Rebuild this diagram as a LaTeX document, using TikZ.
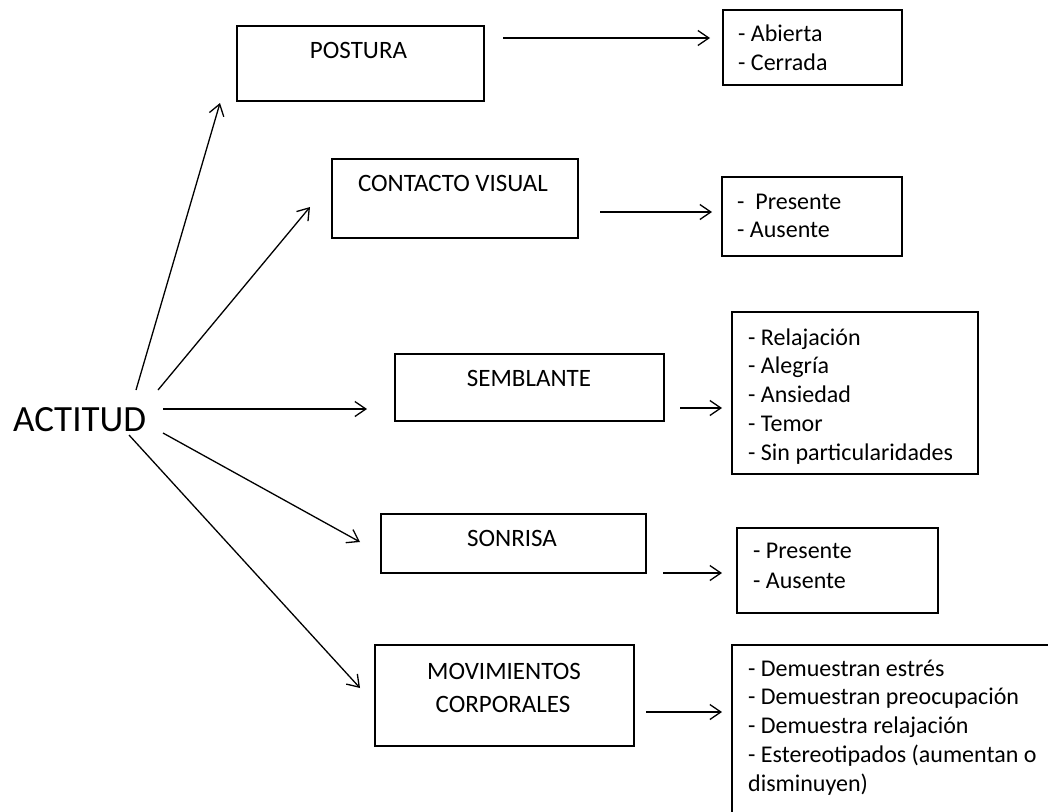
\documentclass[tikz,border=0pt]{standalone}
\usepackage{fontspec}
\setmainfont{Carlito}
\usetikzlibrary{arrows.meta,calc}
\begin{document}
\begin{tikzpicture}[x=1pt,y=-1pt,
  box/.style={draw, line width=1.6pt, inner sep=0pt, outer sep=0pt, anchor=north west},
  ttl/.style={font=\fontsize{25}{28}\selectfont, anchor=base, inner sep=0pt},
  itm/.style={font=\fontsize{24}{28}\selectfont, anchor=base west, inner sep=0pt},
  arr/.style={line width=1.3pt, -{Straight Barb[length=11pt,width=15pt]}}]
\useasboundingbox[fill=white] (0,0) rectangle (1048,811);

% main concept
\node[font=\fontsize{37}{40}\selectfont, anchor=base west, inner sep=0pt] (actitud) at (13,431) {ACTITUD};

% category boxes
\node[box, minimum width=247pt, minimum height=75pt] (postura) at (237,26) {};
\node[box, minimum width=246pt, minimum height=79pt] (contacto) at (332,159) {};
\node[box, minimum width=269pt, minimum height=67pt] (semblante) at (395,354) {};
\node[box, minimum width=265pt, minimum height=59pt] (sonrisa) at (381,514) {};
\node[box, minimum width=259pt, minimum height=101pt] (movim) at (375,645) {};

\node[ttl] (tpostura) at (358.5,58) {POSTURA};
\node[ttl] (tcontacto) at (453,191) {CONTACTO VISUAL};
\node[ttl] (tsemblante) at (529,386) {SEMBLANTE};
\node[ttl] (tsonrisa) at (512,546) {SONRISA};
\node[ttl] (tmov1) at (504,679) {MOVIMIENTOS};
\node[ttl] (tmov2) at (503,712) {CORPORALES};

% list boxes
\node[box, minimum width=179pt, minimum height=75pt] (lpostura) at (723,10) {};
\node[box, minimum width=180pt, minimum height=79pt] (lcontacto) at (722,177) {};
\node[box, minimum width=246pt, minimum height=162pt] (lsemblante) at (732,312) {};
\node[box, minimum width=201pt, minimum height=85pt] (lsonrisa) at (737,528) {};
\begin{scope}
\clip (0,0) rectangle (1048,811);
\node[box, minimum width=340pt, minimum height=200pt] (lmov) at (732,645) {};
\end{scope}

% list texts
\node[itm] (i11) at (738,41) {- Abierta};
\node[itm] (i12) at (738,70) {- Cerrada};
\node[itm] (i21) at (737,209) {-~~Presente};
\node[itm] (i22) at (737,237) {- Ausente};
\node[itm] (i31) at (748,345) {- Relajación};
\node[itm] (i32) at (748,373.75) {- Alegría};
\node[itm] (i33) at (748,402.5) {- Ansiedad};
\node[itm] (i34) at (748,431.25) {- Temor};
\node[itm] (i35) at (748,460) {- Sin particularidades};
\node[itm] (i41) at (753,558) {- Presente};
\node[itm] (i42) at (753,588) {- Ausente};
\node[itm] (i51) at (748,676) {- Demuestran estrés};
\node[itm] (i52) at (748,704.75) {- Demuestran preocupación};
\node[itm] (i53) at (748,733.5) {- Demuestra relajación};
\node[itm] (i54) at (748,762.25) {- Estereotipados (aumentan o};
\node[itm] (i55) at (748,791) {disminuyen)};

% arrow end points
\coordinate (s1) at (136,390);  \coordinate (e1) at (220,103);
\coordinate (s2) at (158,390);  \coordinate (e2) at (310,207);
\coordinate (s3) at (163,409);  \coordinate (e3) at (367,409);
\coordinate (s4) at (163,433);  \coordinate (e4) at (360,542);
\coordinate (s5) at (129,435);  \coordinate (e5) at (360,688);
\coordinate (r1) at (503,38);   \coordinate (f1) at (710,38);
\coordinate (r2) at (600,212);  \coordinate (f2) at (712,212);
\coordinate (r3) at (680,408);  \coordinate (f3) at (722,408);
\coordinate (r4) at (663,573);  \coordinate (f4) at (722,573);
\coordinate (r5) at (646,712);  \coordinate (f5) at (722,712);

% arrows from ACTITUD
\draw[arr] (s1) -- (e1);
\draw[arr] (s2) -- (e2);
\draw[arr] (s3) -- (e3);
\draw[arr] (s4) -- (e4);
\draw[arr] (s5) -- (e5);

% arrows to lists
\draw[arr] (r1) -- (f1);
\draw[arr] (r2) -- (f2);
\draw[arr] (r3) -- (f3);
\draw[arr] (r4) -- (f4);
\draw[arr] (r5) -- (f5);
\end{tikzpicture}
\end{document}
